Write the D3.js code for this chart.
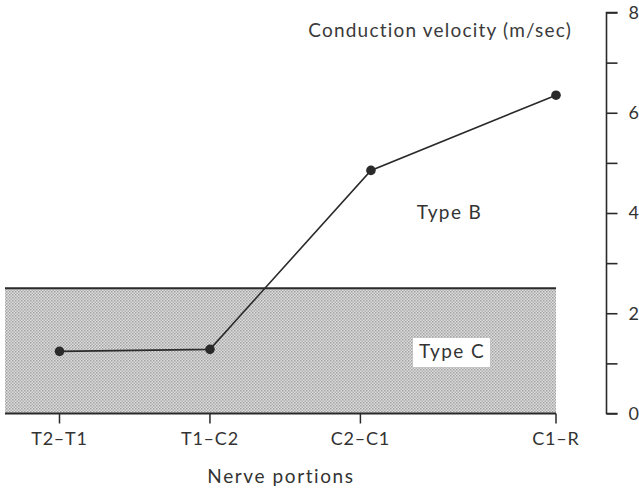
<!DOCTYPE html>
<html><head><meta charset="utf-8">
<script src="https://cdn.jsdelivr.net/npm/d3@7"></script>
<style>body{margin:0;background:#fff}svg{display:block}</style>
</head><body>
<script>
// Data
const categories = ["T2–T1", "T1–C2", "C2–C1", "C1–R"];
const categoryDistance = [0, 1, 2, 3.3];      // relative position of each nerve portion along x
const pointDistance = [0, 1, 2.07, 3.3];      // where each measured point sits along x
const velocities = [1.24, 1.28, 4.85, 6.35];  // conduction velocity (m/sec)
const typeCLimit = [0, 2.5];                  // shaded band: Type C range
const yTicksMajor = [0, 2, 4, 6, 8];
const yTicksAll = [0, 1, 2, 3, 4, 5, 6, 7, 8];

const W = 639, H = 490;
const svg = d3.select("body").append("svg").attr("width", W).attr("height", H);
const font = "Lato, 'Open Sans', sans-serif";
const ink = "#2a2a2a";
const textInk = "#333";

const x = d3.scaleLinear().domain([0, 3.3]).range([59.5, 556]);
const y = d3.scaleLinear().domain([0, 8]).range([413.5, 12.5]);
const bandLeft = 5;

// dotted texture for Type C band
const defs = svg.append("defs");
const pat = defs.append("pattern").attr("id", "dots").attr("patternUnits", "userSpaceOnUse")
  .attr("width", 3).attr("height", 3);
pat.append("rect").attr("width", 3).attr("height", 3).attr("fill", "#dddddd");
pat.append("rect").attr("x", 0).attr("y", 0).attr("width", 1.5).attr("height", 1.5).attr("fill", "#a2a2a2");
pat.append("rect").attr("x", 1.5).attr("y", 1.5).attr("width", 1.5).attr("height", 1.5).attr("fill", "#b0b0b0");

svg.append("rect")
  .attr("x", bandLeft).attr("y", y(typeCLimit[1]))
  .attr("width", x(3.3) - bandLeft).attr("height", y(typeCLimit[0]) - y(typeCLimit[1]))
  .attr("fill", "url(#dots)");

// band boundary lines
svg.append("line").attr("x1", bandLeft).attr("x2", x(3.3))
  .attr("y1", y(typeCLimit[1])).attr("y2", y(typeCLimit[1]))
  .attr("stroke", ink).attr("stroke-width", 2);

// x axis (bottom band line) with downward ticks
const xAxisG = svg.append("g");
xAxisG.append("line").attr("x1", bandLeft).attr("x2", x(3.3))
  .attr("y1", y(0)).attr("y2", y(0)).attr("stroke", ink).attr("stroke-width", 2);
xAxisG.selectAll("line.tick").data(categories).join("line").attr("class", "tick")
  .attr("x1", (d, i) => x(categoryDistance[i])).attr("x2", (d, i) => x(categoryDistance[i]))
  .attr("y1", y(0)).attr("y2", y(0) + 10).attr("stroke", ink).attr("stroke-width", 1.5);
xAxisG.selectAll("text").data(categories).join("text")
  .attr("x", (d, i) => x(categoryDistance[i])).attr("y", 445)
  .attr("text-anchor", "middle").attr("font-family", font).attr("font-size", 18)
  .attr("letter-spacing", 0.8).attr("fill", textInk).text(d => d);

svg.append("text").attr("x", 281).attr("y", 483).attr("text-anchor", "middle")
  .attr("font-family", font).attr("font-size", 19).attr("fill", textInk).attr("letter-spacing", 1.6)
  .text("Nerve portions");

// right y axis
const yAxis = d3.axisRight(y).tickValues(yTicksAll).tickSize(11).tickPadding(12)
  .tickFormat(d => yTicksMajor.includes(d) ? d : "");
const yG = svg.append("g").attr("transform", "translate(606.5,0)").call(yAxis);
yG.select(".domain").attr("d", `M11,${y(8)}H0V${y(0)}H11`).attr("stroke", ink).attr("stroke-width", 1.6).attr("fill", "none");
yG.selectAll(".tick line").attr("stroke", ink).attr("stroke-width", 1.6);
yG.selectAll(".tick text").attr("font-family", font).attr("font-size", 18).attr("fill", textInk).attr("x", 22);

svg.append("text").attr("x", 572).attr("y", 37).attr("text-anchor", "end")
  .attr("font-family", font).attr("font-size", 19).attr("fill", "#3a3a3a").attr("letter-spacing", 1.2)
  .text("Conduction velocity (m/sec)");

// data line and points
const pts = velocities.map((v, i) => [x(pointDistance[i]), y(v)]);
svg.append("path").attr("d", d3.line()(pts)).attr("fill", "none")
  .attr("stroke", ink).attr("stroke-width", 1.6);
svg.selectAll("circle").data(pts).join("circle")
  .attr("cx", d => d[0]).attr("cy", d => d[1]).attr("r", 4.8).attr("fill", ink);

// type labels
svg.append("text").attr("x", 449.5).attr("y", 219).attr("text-anchor", "middle")
  .attr("font-family", font).attr("font-size", 19).attr("fill", textInk).attr("letter-spacing", 1.4)
  .text("Type B");
svg.append("rect").attr("x", 413).attr("y", 338).attr("width", 77).attr("height", 29).attr("fill", "#fff");
svg.append("text").attr("x", 452).attr("y", 358).attr("text-anchor", "middle")
  .attr("font-family", font).attr("font-size", 19).attr("fill", textInk).attr("letter-spacing", 1.4)
  .text("Type C");
</script>
</body></html>
